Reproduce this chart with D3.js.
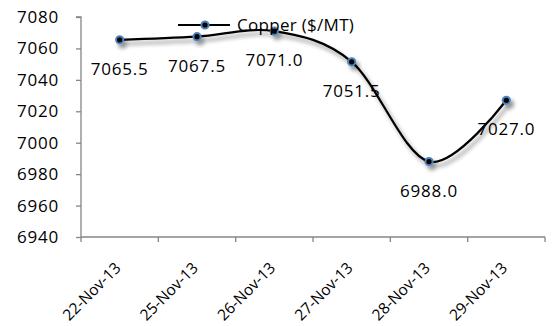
<!DOCTYPE html>
<html><head><meta charset="utf-8">
<script src="https://cdn.jsdelivr.net/npm/d3@7"></script>
<style>body{margin:0;background:#fff}svg{display:block}</style>
</head><body>
<script>
const categories = ["22-Nov-13","25-Nov-13","26-Nov-13","27-Nov-13","28-Nov-13","29-Nov-13"];
const copper = [7065.5, 7067.5, 7071.0, 7051.5, 6988.0, 7027.0];
const yTicks = [6940, 6960, 6980, 7000, 7020, 7040, 7060, 7080];
const seriesName = "Copper ($/MT)";

(function(){
const W = 554, H = 326;
const pLeft = 81, pRight = 545, pTop = 17, pBottom = 237;
const font = "'Open Sans', sans-serif";
const axisColor = "#868686";

const svg = d3.select("body").append("svg").attr("width", W).attr("height", H);
const defs = svg.append("defs");
const f = defs.append("filter").attr("id","sh").attr("x","-20%").attr("y","-20%").attr("width","140%").attr("height","160%");
f.append("feGaussianBlur").attr("in","SourceAlpha").attr("stdDeviation",2.2).attr("result","b");
f.append("feOffset").attr("in","b").attr("dx",3).attr("dy",4).attr("result","o");
f.append("feComponentTransfer").attr("in","o").attr("result","t").append("feFuncA").attr("type","linear").attr("slope",0.45);
const m = f.append("feMerge"); m.append("feMergeNode").attr("in","t"); m.append("feMergeNode").attr("in","SourceGraphic");

const x = d3.scaleBand().domain(categories).range([pLeft, pRight]);
const y = d3.scaleLinear().domain([6940, 7080]).range([pBottom, pTop]);

const ya = svg.append("g").attr("transform", `translate(${pLeft},0)`)
  .call(d3.axisLeft(y).tickValues(yTicks).tickSize(5).tickPadding(17).tickFormat(d3.format("d")));
ya.select(".domain").attr("stroke", axisColor).attr("stroke-width",1.3).attr("d", `M-5,${pTop}H0V${pBottom}`);
ya.selectAll(".tick line").attr("stroke", axisColor).attr("stroke-width",1.3);
ya.selectAll(".tick text").attr("font-family", font).attr("font-size", 17).attr("letter-spacing", 0.8).attr("fill","#000");

const xa = svg.append("g").attr("transform", `translate(0,${pBottom})`);
xa.append("line").attr("x1", pLeft).attr("x2", pRight).attr("stroke", axisColor).attr("stroke-width",1.3);
const bounds = categories.map(c => x(c)).concat([pRight]);
xa.selectAll(".tk").data(bounds).join("line").attr("class","tk").attr("x1", d=>d).attr("x2", d=>d).attr("y1",0).attr("y2",5)
  .attr("stroke", axisColor).attr("stroke-width",1.3);
xa.selectAll(".lbl").data(categories).join("text").attr("class","lbl")
  .attr("transform", d => `translate(${x(d)+x.bandwidth()/2+2},${32}) rotate(-45)`)
  .attr("text-anchor","end").attr("font-family", font).attr("font-size", 15.5).attr("fill","#000").text(d=>d);

const cx = d => x(d) + x.bandwidth()/2;
const pts = categories.map((c,i)=>[cx(c), y(copper[i])]);
const g = svg.append("g").attr("filter","url(#sh)");
g.append("path").attr("d", d3.line().curve(d3.curveCatmullRom.alpha(0))(pts))
  .attr("fill","none").attr("stroke","#000").attr("stroke-width",2.2);
g.selectAll("circle").data(pts).join("circle").attr("cx",d=>d[0]).attr("cy",d=>d[1]).attr("r",3.6)
  .attr("fill","#000").attr("stroke","#4F81BD").attr("stroke-width",2);

svg.selectAll(".dl").data(copper).join("text").attr("class","dl")
  .attr("x",(d,i)=>cx(categories[i])).attr("y",(d)=>y(d)+35)
  .attr("text-anchor","middle").attr("font-family", font).attr("font-size",17).attr("letter-spacing",0.8).attr("fill","#000")
  .text(d=>d.toFixed(1));

const lg = svg.append("g");
lg.append("line").attr("x1",178).attr("x2",230).attr("y1",25).attr("y2",25).attr("stroke","#000").attr("stroke-width",2.2);
lg.append("circle").attr("cx",205).attr("cy",25).attr("r",3.6).attr("fill","#000").attr("stroke","#4F81BD").attr("stroke-width",2);
lg.append("text").attr("x",237).attr("y",31).attr("font-family",font).attr("font-size",17).attr("letter-spacing",0.3).attr("fill","#000").text(seriesName);
})();
</script>
</body></html>
